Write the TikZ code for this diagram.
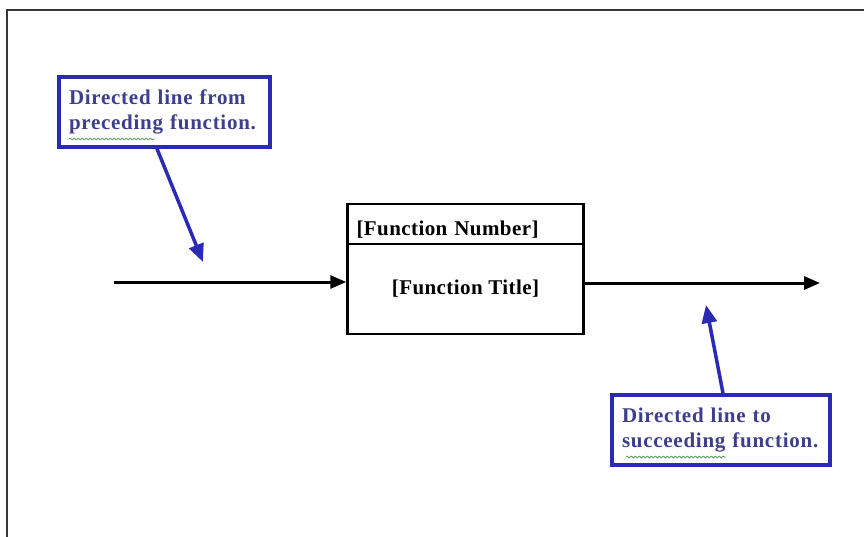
\documentclass[tikz,border=0pt]{standalone}
\usepackage{fontspec}
\setmainfont{Liberation Serif}
\usetikzlibrary{arrows.meta,decorations.pathmorphing}
\definecolor{noteblue}{RGB}{42,42,178}
\definecolor{notetext}{RGB}{62,62,140}
\definecolor{framegray}{RGB}{55,55,55}
\definecolor{spellgreen}{RGB}{90,160,90}
\begin{document}
\begin{tikzpicture}[x=1pt,y=-1pt,
  note/.style={draw=noteblue, line width=3.5pt, text=notetext,
    font=\bfseries\fontsize{21}{25.5}\selectfont\addfontfeature{LetterSpace=3.5},
    align=left, inner xsep=10pt, minimum height=70pt},
  fnbox/.style={draw, line width=2.5pt, minimum width=236pt,
    font=\bfseries\fontsize{21}{26}\selectfont\addfontfeature{LetterSpace=2}},
  flow/.style={line width=3pt, -{Triangle[length=16pt,width=13pt]}},
  pointer/.style={noteblue, line width=3.5pt, -{Triangle[length=18pt,width=15pt]}},
  squiggle/.style={spellgreen, line width=0.8pt,
    decorate, decoration={snake, amplitude=0.9pt, segment length=4pt}}]
\useasboundingbox (0,0) rectangle (864,536);
% page frame running off the right and bottom edges
\draw[framegray, line width=2pt] (7,545) |- (875,10);

% function block: number strip above the title area
\node[fnbox, minimum height=40pt, text width=218pt, align=left, inner xsep=9pt,
  text height=22pt, text depth=0pt]
  (num) at (465.5,224) {[Function Number]};
\node[fnbox, minimum height=90pt, align=center] (title) at (465.5,289) {[Function Title]};

% directed lines in and out of the block
\coordinate (in) at (114,282);
\coordinate (out) at (820,283);
\draw[flow] (in) -- (in -| title.west);
\draw[flow] (title.east |- out) -- (out);

% callout notes
\node[note, text width=191pt] (note1) at (164.5,112) {Directed line from\\preceding function.};
\node[note, text width=198pt] (note2) at (721,430) {Directed line to\\succeeding function.};

\coordinate (p1) at (203,262);
\coordinate (p2) at (706,305);
\draw[pointer] ([xshift=-7.5pt]note1.south) -- (p1);
\draw[pointer] ([xshift=2pt]note2.north) -- (p2);

% spell-check underlines
\draw[squiggle] (69,139) -- (155,139);
\draw[squiggle] (626,457) -- (726,457);
\end{tikzpicture}
\end{document}
